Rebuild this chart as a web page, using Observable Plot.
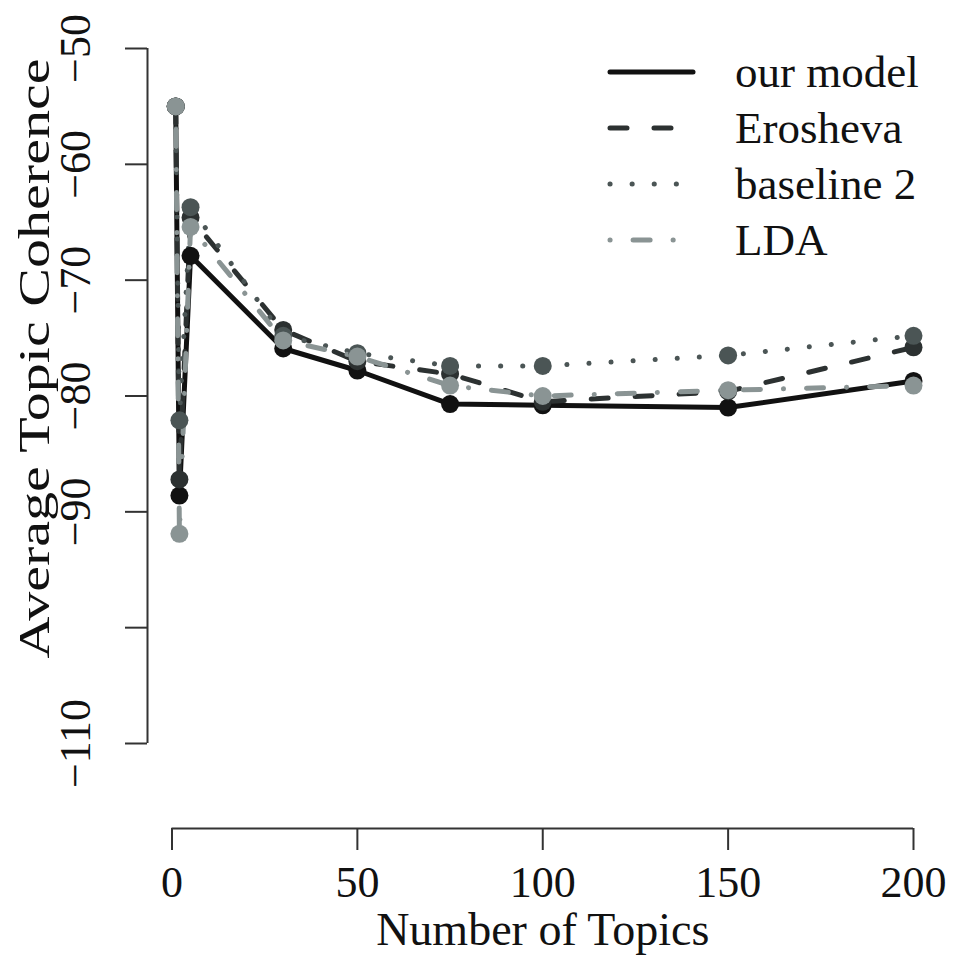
<!DOCTYPE html>
<html>
<head>
<meta charset="utf-8">
<script src="https://cdn.jsdelivr.net/npm/d3@7"></script>
<script src="https://cdn.jsdelivr.net/npm/@observablehq/plot@0.6"></script>
<style>
  html, body { margin: 0; padding: 0; background: #fff; }
  #chart { position: relative; width: 953px; height: 960px; }
  #legend { position: absolute; left: 0; top: 0; }
</style>
</head>
<body>
<div id="chart"></div>
<script>
// ---- data ----
const topics = [1, 2, 5, 30, 50, 75, 100, 150, 200];
const ourModel  = [-55, -88.6, -67.9, -75.9, -77.8, -80.7, -80.8, -81.0, -78.7];
const erosheva  = [-55, -87.2, -64.6, -74.3, -77.0, -78.1, -80.5, -79.6, -75.8];
const baseline2 = [-55, -82.1, -63.7, -74.8, -76.3, -77.4, -77.4, -76.5, -74.8];
const lda       = [-55, -91.9, -65.4, -75.2, -76.6, -79.1, -80.0, -79.5, -79.1];
const seriesNames = ["our model", "Erosheva", "baseline 2", "LDA"];
const yTicks = [-50, -60, -70, -80, -90, -100, -110];
const yTickLabels = ["\u221250", "\u221260", "\u221270", "\u221280", "\u221290", "", "\u2212110"];
const xTicks = [0, 50, 100, 150, 200];
const xTitle = "Number of Topics";
const yTitle = "Average Topic Coherence";

// ---- styles ----
const styles = {
  "our model":  {color: "#111111", dash: null},
  "Erosheva":   {color: "#2c3131", dash: "17,27"},
  "baseline 2": {color: "#4b5555", dash: "0.1,22"},
  "LDA":        {color: "#8a9494", dash: "0.1,23,17,23"}
};
const lw = 5;
const font = "'Liberation Serif', 'Times New Roman', serif";

const valuesBySeries = [ourModel, erosheva, baseline2, lda];
const rows = [];
seriesNames.forEach((s, i) => topics.forEach((t, j) => rows.push({series: s, topics: t, value: valuesBySeries[i][j]})));

const marks = [];
seriesNames.forEach(s => {
  const d = rows.filter(r => r.series === s);
  const st = styles[s];
  marks.push(Plot.line(d, {x: "topics", y: "value", stroke: st.color, strokeWidth: lw,
    strokeDasharray: st.dash, strokeLinecap: "round", strokeLinejoin: "round"}));
});
seriesNames.forEach(s => {
  const d = rows.filter(r => r.series === s);
  marks.push(Plot.dot(d, {x: "topics", y: "value", r: 9, fill: styles[s].color, stroke: "none"}));
});

const chart = Plot.plot({
  width: 953,
  height: 960,
  marginLeft: 171.5,
  marginRight: 40,
  marginTop: 48,
  marginBottom: 217,
  style: {fontFamily: font, fontSize: "44px", color: "#111", background: "#fff"},
  x: {domain: [0, 200], axis: null},
  y: {domain: [-110, -50], axis: null},
  marks: [
    // y axis
    Plot.ruleX([0], {y1: -110, y2: -50, dx: -24.5, stroke: "#333", strokeWidth: 2}),
    Plot.axisY({anchor: "left", ticks: yTicks, tickSize: 22, dx: -24.5, tickPadding: 36,
      tickRotate: -90, tickFormat: (d) => yTickLabels[yTicks.indexOf(d)],
      stroke: "#333", strokeWidth: 2, fill: "#111", fontSize: 44, label: null}),
    // x axis
    Plot.ruleY([-110], {x1: 0, x2: 200, dy: 85, stroke: "#333", strokeWidth: 2}),
    Plot.axisX({anchor: "bottom", ticks: xTicks, tickSize: 22, dy: 85, tickPadding: 15,
      tickFormat: d => String(d), stroke: "#333", strokeWidth: 2, fill: "#111", fontSize: 44, label: null}),
    // axis titles
    Plot.text([xTitle], {frameAnchor: "bottom", dy: 187, text: d => d, fontSize: 46, fill: "#111", lineAnchor: "middle", textAnchor: "middle"}),
    Plot.text([yTitle], {frameAnchor: "left", dx: -137, dy: -37.5, rotate: -90, text: d => d, fontSize: 44, fill: "#111", lineAnchor: "middle", textAnchor: "middle", className: "ytitle"}),
    ...marks
  ]
});
document.getElementById("chart").appendChild(chart);
// stretch y title along its length to match the reference's elongated glyphs
d3.select(chart).selectAll(".ytitle text").attr("textLength", 600).attr("lengthAdjust", "spacingAndGlyphs");

// ---- legend overlay ----
const leg = d3.select("#chart").append("svg").attr("id", "legend").attr("width", 953).attr("height", 300);
seriesNames.forEach((s, i) => {
  const y = 72 + i * 56;
  const st = styles[s];
  leg.append("line").attr("x1", 610).attr("x2", 693).attr("y1", y).attr("y2", y)
    .attr("stroke", st.color).attr("stroke-width", lw).attr("stroke-linecap", "round")
    .attr("stroke-dasharray", st.dash);
  leg.append("text").attr("x", 735).attr("y", y + 15).text(s)
    .attr("font-family", font).attr("font-size", 45).attr("fill", "#111");
});
</script>
</body>
</html>
